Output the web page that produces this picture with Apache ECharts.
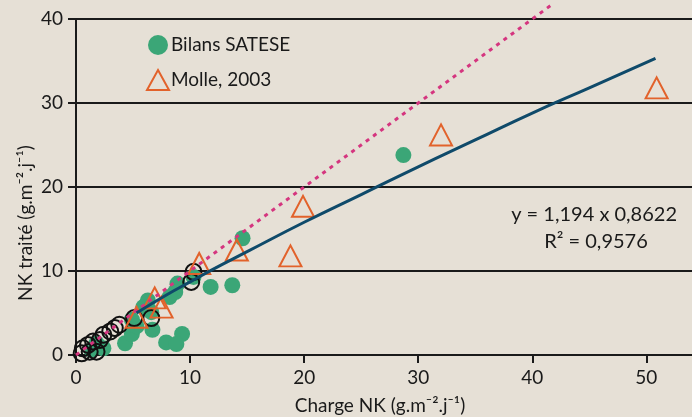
<!DOCTYPE html>
<html>
<head>
<meta charset="utf-8">
<script src="https://cdn.jsdelivr.net/npm/echarts@6/dist/echarts.min.js"></script>
<style>
html, body { margin: 0; padding: 0; background: #e6e0d6; }
#main { width: 692px; height: 417px; }
</style>
</head>
<body>
<div id="main"></div>
<script>
// Bilans SATESE (filled green dots)
var satese = [
    [14.6, 13.9], [13.7, 8.3], [11.8, 8.1], [9.3, 2.5], [7.9, 1.5], [8.8, 1.3],
    [6.7, 3.0], [4.3, 1.4], [4.9, 2.5], [10.3, 9.3], [8.9, 8.5], [8.7, 7.5],
    [8.2, 6.9], [6.3, 6.5], [5.9, 5.7], [4.9, 4.2], [5.3, 3.4], [2.4, 0.8],
    [1.8, 1.4], [1.35, 0.6], [6.6, 5.1], [28.7, 23.8]
];
// open black circles (no legend entry)
var cercles = [
    [10.3, 9.9], [10.1, 8.7], [6.6, 4.4], [5.1, 4.4], [3.8, 3.6], [3.4, 3.2],
    [3.0, 2.8], [2.4, 2.4], [2.1, 1.8], [1.5, 1.6], [1.05, 1.2], [0.6, 0.8],
    [0.5, 0.2], [1.8, 0.4], [1.2, 0.4]
];
// Molle, 2003 (open orange triangles)
var molle = [
    [5.3, 4.5], [6.9, 6.8], [7.5, 5.7], [10.8, 10.9], [14.1, 12.5],
    [19.9, 17.7], [18.8, 11.8], [32.0, 26.2], [50.9, 31.8]
];
// power trend line
var courbeX = [5.3, 8, 10, 12, 15, 20, 25, 30, 35, 40, 45, 50.8];
var courbeY = [5.0, 7.2, 8.7, 10.2, 12.3, 15.8, 19.1, 22.4, 25.6, 28.8, 31.8, 35.3];
// 1:1 line
var droiteX = [0, 41.7];
var droiteY = [0, 41.7];
var xTicks = [0, 10, 20, 30, 40, 50];

var font = 'Lato, "Noto Sans", sans-serif';

function zip(a, b) {
    var out = [];
    for (var i = 0; i < a.length; i++) out.push([a[i], b[i]]);
    return out;
}

var chart = echarts.init(document.getElementById('main'));
chart.setOption({
    backgroundColor: '#e6e0d6',
    animation: false,
    grid: { left: 76, right: 0, top: 19, bottom: 62 },
    legend: {
        orient: 'vertical',
        left: 141,
        top: 30,
        itemGap: 14,
        itemWidth: 22,
        itemHeight: 20,
        textStyle: { fontFamily: font, fontSize: 19, color: '#1a1a1a', padding: [0, 0, 0, -3] },
        data: [
            { name: 'Bilans SATESE', icon: 'circle', itemStyle: { color: '#3ba677' } },
            { name: 'Molle, 2003', icon: 'triangle',
              itemStyle: { color: 'transparent', borderColor: '#e2622b', borderWidth: 2 } }
        ]
    },
    xAxis: {
        type: 'value',
        min: 0,
        max: 54,
        interval: 10,
        axisLine: { show: true, onZero: false, lineStyle: { color: '#1a1a1a', width: 2 } },
        axisTick: { show: true, length: 8, customValues: xTicks, lineStyle: { color: '#1a1a1a', width: 2 } },
        axisLabel: { margin: 13, customValues: xTicks, fontFamily: font, fontSize: 19, color: '#1a1a1a' },
        splitLine: { show: false }
    },
    yAxis: {
        type: 'value',
        min: 0,
        max: 40,
        interval: 10,
        axisLine: { show: true, lineStyle: { color: '#1a1a1a', width: 2 } },
        axisTick: { show: true, length: 8, lineStyle: { color: '#1a1a1a', width: 2 } },
        axisLabel: { margin: 13, fontFamily: font, fontSize: 19, color: '#1a1a1a' },
        splitLine: { show: true, lineStyle: { color: '#1a1a1a', width: 2 } }
    },
    graphic: [
        { type: 'text', x: 26, y: 223, rotation: Math.PI / 2,
          style: { text: 'NK traité (g.m⁻².j⁻¹)', font: '19px ' + font, fill: '#1a1a1a',
                   align: 'center', verticalAlign: 'middle' } },
        { type: 'text', x: 380, y: 406,
          style: { text: 'Charge NK (g.m⁻².j⁻¹)', font: '19px ' + font, fill: '#1a1a1a',
                   align: 'center', verticalAlign: 'middle' } },
        { type: 'text', x: 677, y: 215,
          style: { text: 'y = 1,194 x 0,8622', font: '20px ' + font, fill: '#1a1a1a',
                   align: 'right', verticalAlign: 'middle' } },
        { type: 'text', x: 596, y: 242,
          style: { text: 'R² = 0,9576', font: '20px ' + font, fill: '#1a1a1a',
                   align: 'center', verticalAlign: 'middle' } }
    ],
    series: [
        {
            name: 'Bilans SATESE',
            type: 'scatter',
            symbol: 'circle',
            symbolSize: 16,
            itemStyle: { color: '#3ba677', opacity: 1 },
            z: 2,
            data: satese
        },
        {
            name: 'cercles',
            type: 'scatter',
            symbol: 'circle',
            symbolSize: 16,
            itemStyle: { color: 'transparent', borderColor: '#111', borderWidth: 2, opacity: 1 },
            z: 3,
            data: cercles
        },
        {
            name: 'Molle, 2003',
            type: 'scatter',
            symbol: 'triangle',
            symbolSize: [22, 21],
            itemStyle: { color: 'transparent', borderColor: '#e2622b', borderWidth: 2, opacity: 1 },
            z: 4,
            data: molle
        },
        {
            name: '1:1',
            type: 'line',
            clip: false,
            showSymbol: false,
            lineStyle: { color: '#d5357f', width: 3, type: [4, 5] },
            z: 5,
            data: zip(droiteX, droiteY)
        },
        {
            name: 'tendance',
            type: 'line',
            smooth: true,
            showSymbol: false,
            lineStyle: { color: '#0f4a6a', width: 3 },
            z: 6,
            data: zip(courbeX, courbeY)
        }
    ]
});
</script>
</body>
</html>
